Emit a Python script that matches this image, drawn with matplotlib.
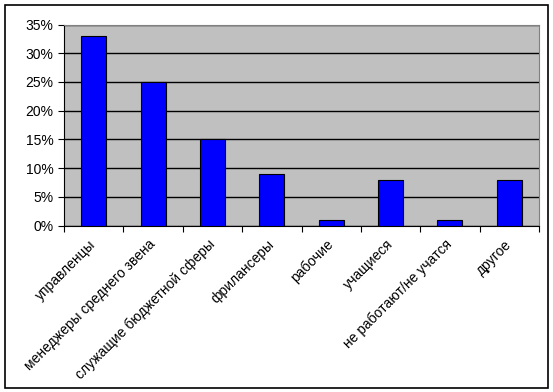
import matplotlib
matplotlib.use('Agg')
import matplotlib.pyplot as plt
from matplotlib.patches import Rectangle
from matplotlib.ticker import FuncFormatter, FixedLocator

plt.rcParams['font.family'] = ['Liberation Sans', 'DejaVu Sans']

categories = ['управленцы', 'менеджеры среднего звена', 'служащие бюджетной сферы',
              'фрилансеры', 'рабочие', 'учащиеся', 'не работают/не учатся', 'другое']
values = [33, 25, 15, 9, 1, 8, 1, 8]
y_ticks = [0, 5, 10, 15, 20, 25, 30, 35]

fig = plt.figure(figsize=(5.53, 3.92), dpi=100)
ax = fig.add_axes([64 / 553, 1 - 225.5 / 392, (539 - 64) / 553, (225.5 - 24.5) / 392])

x = list(range(len(categories)))
ax.bar(x, values, width=0.42, color='#0000FF', edgecolor='black', linewidth=0.8, zorder=3)

ax.set_facecolor('#C0C0C0')
ax.set_xlim(-0.5, len(categories) - 0.5)
ax.set_ylim(0, 35)
ax.set_yticks(y_ticks)
ax.yaxis.set_major_formatter(FuncFormatter(lambda v, p: '%d%%' % v))
ax.yaxis.grid(True, color='black', linewidth=1)
ax.set_axisbelow(True)

# ticks between categories, labels at centers
ax.xaxis.set_major_locator(FixedLocator([i - 0.5 for i in range(len(categories) + 1)]))
ax.xaxis.set_minor_locator(FixedLocator(x))
ax.set_xticklabels([])
ax.set_xticklabels(categories, minor=True, rotation=45, ha='right', va='center',
                   rotation_mode='anchor', fontsize=10)
ax.tick_params(axis='x', which='major', direction='out', length=4, width=0.8)
ax.tick_params(axis='x', which='minor', length=0, pad=12)
ax.tick_params(axis='y', direction='out', length=4, width=0.8, labelsize=10)

for s in ['top', 'right']:
    ax.spines[s].set_color('#808080')
for s in ['left', 'bottom']:
    ax.spines[s].set_color('black')

fig.patches.append(Rectangle((5 / 553, 4 / 392), 543 / 553, 383 / 392, transform=fig.transFigure,
                             fill=False, edgecolor='black', linewidth=1.2))

fig.savefig('out.png', dpi=100)
